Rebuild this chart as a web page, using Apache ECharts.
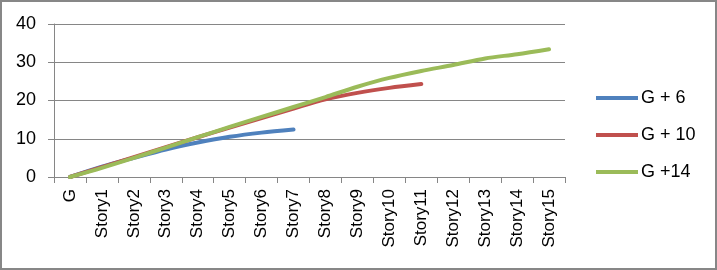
<!DOCTYPE html>
<html>
<head>
<meta charset="utf-8">
<script src="https://cdn.jsdelivr.net/npm/echarts@6/dist/echarts.min.js"></script>
<style>
html,body{margin:0;padding:0;background:#fff;}
#chart{position:absolute;left:0;top:0;width:717px;height:270px;}
#frame{position:absolute;left:0;top:0;width:717px;height:270px;box-sizing:border-box;border:2px solid #878787;pointer-events:none;}
</style>
</head>
<body>
<div id="chart"></div>
<div id="frame"></div>
<script>
const categories = ['G','Story1','Story2','Story3','Story4','Story5','Story6','Story7','Story8','Story9','Story10','Story11','Story12','Story13','Story14','Story15'];
const seriesNames = ['G + 6','G + 10','G +14'];
const g6 = [0, 2.7, 5.0, 7.2, 9.0, 10.5, 11.6, 12.4];
const g10 = [0, 2.6, 5.2, 7.8, 10.4, 12.9, 15.4, 17.9, 20.3, 22.0, 23.3, 24.3];
const g14 = [0, 2.4, 5.0, 7.7, 10.4, 13.1, 15.7, 18.3, 20.9, 23.6, 25.9, 27.7, 29.3, 31.0, 32.1, 33.4];
const yTicks = {min: 0, max: 40, interval: 10};
const colors = ['#4F81BD','#C0504D','#9BBB59'];
const font = 'Liberation Sans';

const chart = echarts.init(document.getElementById('chart'), null, {renderer:'canvas'});
const mk = (name, data, color) => ({
  name, type:'line', data, smooth:0.3, showSymbol:false, symbol:'none',
  lineStyle:{width:4, color, cap:'round', join:'round'}, itemStyle:{color}, z:2
});
chart.setOption({
  animation:false,
  backgroundColor:'#fff',
  grid:{left:54, right:152, top:24, bottom:93, containLabel:false},
  legend:{
    orient:'vertical', left:591, top:84, itemGap:19,
    itemWidth:42, itemHeight:4, icon:'rect',
    textStyle:{fontFamily:font, fontSize:18, color:'#000', lineHeight:18, padding:[0,0,0,-2]},
    data:seriesNames
  },
  xAxis:{
    type:'category', data:categories, boundaryGap:true,
    axisLine:{lineStyle:{color:'#868686', width:1}},
    axisTick:{show:true, length:6, alignWithLabel:false, lineStyle:{color:'#868686'}},
    axisLabel:{rotate:90, interval:0, margin:12, fontFamily:font, fontSize:17, color:'#000'},
    splitLine:{show:false}
  },
  yAxis:{
    type:'value', min:yTicks.min, max:yTicks.max, interval:yTicks.interval,
    axisLine:{show:true, lineStyle:{color:'#868686', width:1}},
    axisTick:{show:true, length:6, lineStyle:{color:'#868686'}},
    axisLabel:{margin:18, fontFamily:font, fontSize:18, color:'#000'},
    splitLine:{show:true, lineStyle:{color:'#868686', width:1}}
  },
  series:[mk(seriesNames[0], g6, colors[0]), mk(seriesNames[1], g10, colors[1]), mk(seriesNames[2], g14, colors[2])]
});
</script>
</body>
</html>
